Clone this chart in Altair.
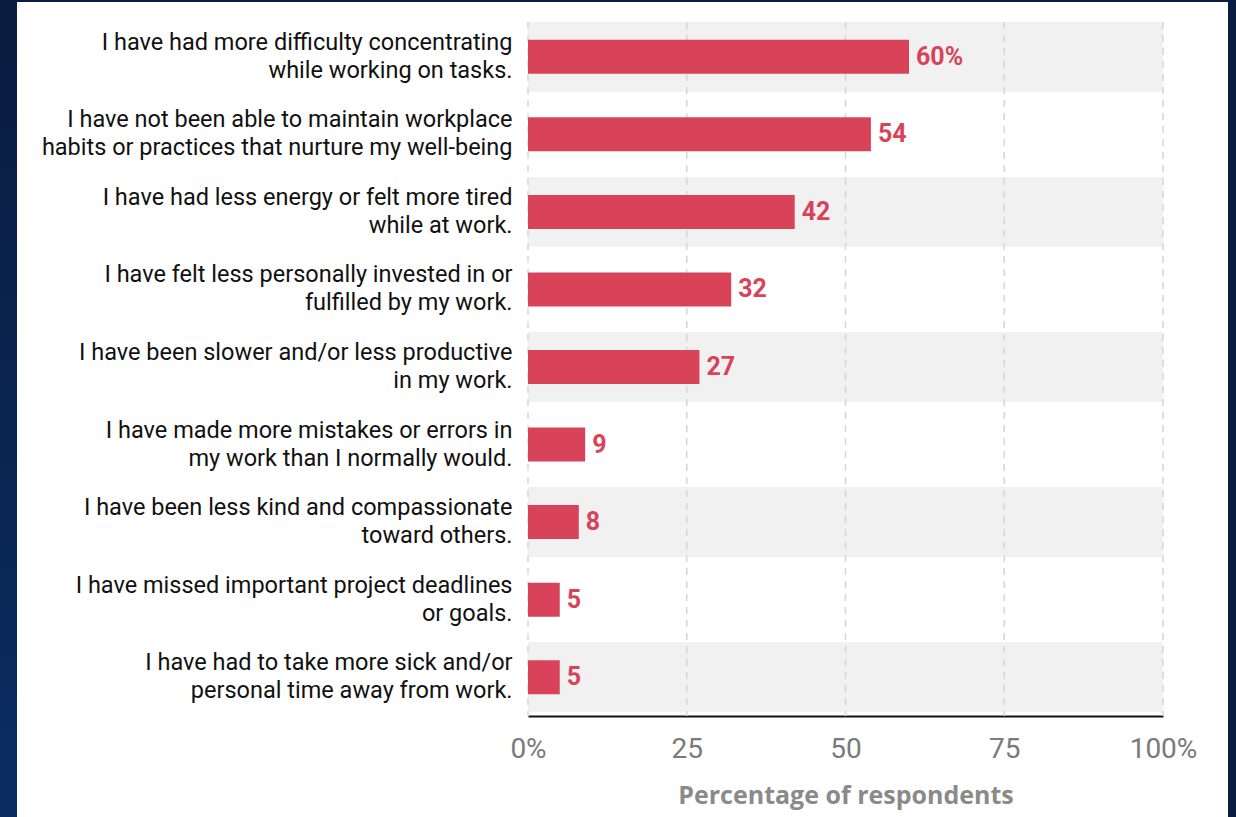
import altair as alt
import pandas as pd

labels = [
    "I have had more difficulty concentrating|while working on tasks.",
    "I have not been able to maintain workplace|habits or practices that nurture my well-being",
    "I have had less energy or felt more tired|while at work.",
    "I have felt less personally invested in or|fulfilled by my work.",
    "I have been slower and/or less productive|in my work.",
    "I have made more mistakes or errors in|my work than I normally would.",
    "I have been less kind and compassionate|toward others.",
    "I have missed important project deadlines|or goals.",
    "I have had to take more sick and/or|personal time away from work.",
]
values = [60, 54, 42, 32, 27, 9, 8, 5, 5]
value_text = ["60%", "54", "42", "32", "27", "9", "8", "5", "5"]
grid_ticks = [0, 25, 50, 75, 100]

df = pd.DataFrame({
    "item": labels,
    "value": values,
    "text": value_text,
    "idx": list(range(len(labels))),
})
df["zero"] = 0
df["full"] = 100
grid_df = pd.DataFrame({"tick": grid_ticks})
one = pd.DataFrame({"a": [0]})

RED = "#d8435a"
NAVY = "#0b1d40"
H = 698

yenc = alt.Y(
    "item:N",
    sort=labels,
    scale=alt.Scale(paddingInner=0, paddingOuter=0),
    axis=alt.Axis(
        title=None, domain=False, ticks=False, labelPadding=16,
        labelFont="Roboto", labelFontSize=23.5, labelColor="#111111",
        labelLineHeight=28, labelLimit=600, labelOffset=-14,
        labelExpr="split(datum.label, '|')",
    ),
)
xscale = alt.Scale(domain=[0, 100], nice=False)
xaxis = alt.Axis(
    values=grid_ticks, grid=False, ticks=False, tickSize=0,
    domain=True, domainColor="#111111", domainWidth=2,
    labelFont="Roboto", labelFontSize=28, labelColor="#7a7a7a",
    labelFlush=False, labelPadding=19,
    labelExpr="datum.value == 0 || datum.value == 100 ? datum.value + '%' : datum.value",
    title="Percentage of respondents", titleFont="Open Sans", titleFontSize=25,
    titleFontWeight="bold", titleColor="#8a8a8a", titlePadding=20,
)

bands = alt.Chart(df).transform_filter("datum.idx % 2 == 0").mark_bar(color="#f1f1f1", size=70).encode(
    y=yenc,
    x=alt.X("zero:Q", scale=xscale, axis=xaxis),
    x2="full:Q",
)

grid = alt.Chart(grid_df).mark_rule(color="#d6d6d6", strokeDash=[7, 6], strokeWidth=1.5).encode(
    x=alt.X("tick:Q", scale=xscale),
    y=alt.value(4),
    y2=alt.value(H),
)

bars = alt.Chart(df).mark_bar(color=RED, size=34).encode(
    y=yenc,
    x=alt.X("value:Q", scale=xscale, axis=xaxis),
)

texts = alt.Chart(df).mark_text(
    align="left", baseline="middle", dx=7, font="Roboto", fontSize=25,
    fontWeight="bold", color=RED,
).encode(
    y=yenc,
    x=alt.X("value:Q", scale=xscale),
    text="text:N",
)

left_strip = alt.Chart(one).mark_rect(
    color=alt.Gradient(
        gradient="linear",
        stops=[alt.GradientStop(color="#0a1c3f", offset=0),
               alt.GradientStop(color="#0a2d62", offset=1)],
        x1=0, x2=0, y1=0, y2=1,
    )
).encode(x=alt.value(-528), x2=alt.value(-511), y=alt.value(-18), y2=alt.value(799))
top_strip = alt.Chart(one).mark_rect(color=NAVY).encode(
    x=alt.value(-528), x2=alt.value(708), y=alt.value(-18), y2=alt.value(-16))
right_strip = alt.Chart(one).mark_rect(color=NAVY).encode(
    x=alt.value(700), x2=alt.value(708), y=alt.value(-18), y2=alt.value(799))

chart = alt.layer(bands, grid, bars, texts, left_strip, top_strip, right_strip).properties(
    width=635, height=H,
    autosize=alt.AutoSizeParams(type="none"),
    padding={"left": 528, "top": 18, "right": 73, "bottom": 101},
    background="white",
).configure_view(stroke=None)

chart.save("out.html", embed_options={"renderer": "svg", "actions": False})
